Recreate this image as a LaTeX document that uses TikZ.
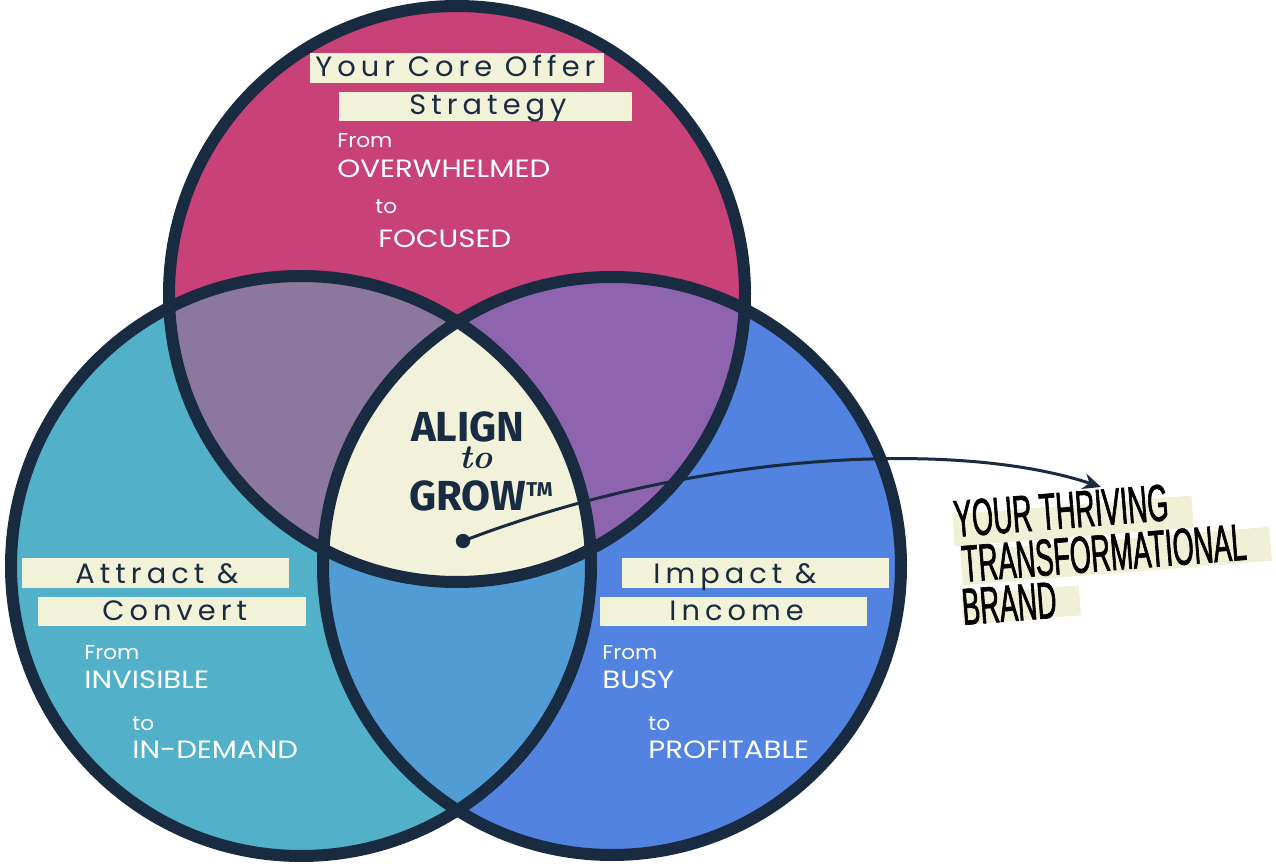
\documentclass[tikz,border=0pt]{standalone}
\usepackage{fontspec}
\usetikzlibrary{arrows.meta}
\newfontfamily\labfont[LetterSpace=18,FakeStretch=1.03]{Poppins}
\newfontfamily\wfont[FakeStretch=1.08]{Poppins}
\newfontfamily\wbfont[FakeStretch=1.17]{Poppins}
\newfontfamily\alfont{Fira Sans}
\newfontfamily\bebas[FakeStretch=0.52,FakeBold=1.2]{Liberation Sans}
\definecolor{cPink}{HTML}{C84177}
\definecolor{cTeal}{HTML}{52B0C9}
\definecolor{cBlue}{HTML}{5283E0}
\definecolor{cTL}{HTML}{8C789E}
\definecolor{cTR}{HTML}{8E64AE}
\definecolor{cLR}{HTML}{529CD5}
\definecolor{cCenter}{HTML}{F2F2DA}
\definecolor{cInk}{HTML}{182B40}
\definecolor{cBox}{HTML}{F2F2D8}
\definecolor{cHi}{HTML}{F0F0D6}
\tikzset{
  ring/.style={draw=cInk, line width=6pt},
  lab/.style={anchor=base west, inner sep=0pt, text=cInk, font=\labfont\fontsize{14}{14}\selectfont},
  wsmall/.style={anchor=base west, inner sep=0pt, text=white, font=\wfont\fontsize{10}{10}\selectfont},
  wbig/.style={anchor=base west, inner sep=0pt, text=white, font=\wbfont\fontsize{12.5}{12.5}\selectfont},
  bebasline/.style={anchor=base west, inner sep=0pt, text=black, rotate=4.5, font=\bebas\fontsize{26}{26}\selectfont},
  hibox/.style={fill=cHi, rotate=4.5, inner sep=0pt}
}
\begin{document}
\begin{tikzpicture}[x=0.5pt,y=-0.5pt]
\useasboundingbox (0,0) rectangle (1276,866);
\coordinate (cT) at (457,294);
\coordinate (cL) at (301,566);
\coordinate (cR) at (612,566);
\def\rT{144pt}\def\rL{145pt}\def\rR{144.5pt}
% base fills
\fill[cPink] (cT) circle[radius=\rT];
\fill[cTeal] (cL) circle[radius=\rL];
\fill[cBlue] (cR) circle[radius=\rR];
\begin{scope}\clip (cT) circle[radius=\rT]; \fill[cTL] (cL) circle[radius=\rL];\end{scope}
\begin{scope}\clip (cT) circle[radius=\rT]; \fill[cTR] (cR) circle[radius=\rR];\end{scope}
\begin{scope}\clip (cL) circle[radius=\rL]; \fill[cLR] (cR) circle[radius=\rR];\end{scope}
\begin{scope}\clip (cT) circle[radius=\rT]; \clip (cL) circle[radius=\rL]; \fill[cCenter] (cR) circle[radius=\rR];\end{scope}
% rings
\draw[ring] (cT) circle[radius=\rT];
\draw[ring] (cL) circle[radius=\rL];
\draw[ring] (cR) circle[radius=\rR];
% label boxes
\fill[cBox] (310,53) rectangle (604,83);
\fill[cBox] (339,92) rectangle (632,121);
\fill[cBox] (22,558) rectangle (289,588);
\fill[cBox] (38,597) rectangle (306,626);
\fill[cBox] (622,558) rectangle (889,588);
\fill[cBox] (600,597) rectangle (867,626);
% labels
\node[lab] (t1) at (315,77) {Your Core Offer};
\node[lab] (t2) at (409,115) {Strategy};
\node[lab] (l1) at (75,583) {Attract \&};
\node[lab] (l2) at (102,620) {Convert};
\node[lab] (r1) at (653,583) {Impact \&};
\node[lab] (r2) at (669,620) {Income};
% white texts
\node[wsmall] (tf) at (337,148) {From};
\node[wbig] (to) at (337,178) {OVERWHELMED};
\node[wsmall] (tt) at (375,214) {to};
\node[wbig] (tg) at (378,248) {FOCUSED};
\node[wsmall] (lf) at (84,659) {From};
\node[wbig] (lo) at (84,688) {INVISIBLE};
\node[wsmall] (lt) at (132,730) {to};
\node[wbig] (lg) at (132,758) {IN-DEMAND};
\node[wsmall] (rf) at (602,659) {From};
\node[wbig] (ro) at (602,688) {BUSY};
\node[wsmall] (rt) at (648,730) {to};
\node[wbig] (rg) at (648,758) {PROFITABLE};
% center
\node[anchor=base, inner sep=0pt, text=cInk, font=\alfont\bfseries\fontsize{21}{21}\selectfont] (align) at (468,442) {ALIGN};
\node[anchor=base, inner sep=0pt, text=cInk, font=\bfseries\itshape\fontsize{17}{17}\selectfont] (to2) at (476,469) {to};
\node[anchor=base, inner sep=0pt, text=cInk, font=\alfont\bfseries\fontsize{21}{21}\selectfont] (grow) at (481,510) {GROW{\fontsize{10}{10}\selectfont\raisebox{7pt}{TM}}};
% pointer
\fill[cInk] (463,541) circle[radius=3.6pt] coordinate (dot);
\coordinate (tip) at (1101,487);
\draw[cInk, line width=1.5pt, -{Stealth[length=9pt,width=8pt]}] (dot) .. controls (700,450) and (960,440) .. (tip);
% right text highlights
\node[hibox, minimum width=120pt, minimum height=16pt] (h1) at (1073,521) {};
\node[hibox, minimum width=155pt, minimum height=17pt] (h2) at (1116,556) {};
\node[hibox, minimum width=59pt, minimum height=15pt] (h3) at (1021,605) {};
\node[bebasline] (b1) at (955,537) {YOUR THRIVING};
\node[bebasline] (b2) at (963,582) {TRANSFORMATIONAL};
\node[bebasline] (b3) at (963,625) {BRAND};
\end{tikzpicture}
\end{document}
